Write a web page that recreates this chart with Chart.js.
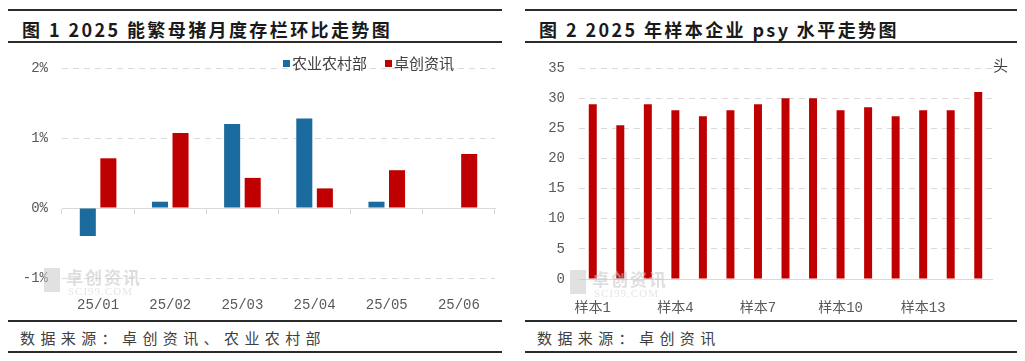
<!DOCTYPE html>
<html>
<head>
<meta charset="utf-8">
<script src="https://cdn.jsdelivr.net/npm/chart.js@4/dist/chart.umd.min.js"></script>
<style>
  html, body { margin: 0; padding: 0; background: #fff; }
  body { width: 1025px; height: 361px; position: relative; overflow: hidden;
         font-family: "Noto Sans CJK SC", sans-serif; }
  .rule { position: absolute; height: 2px; background: #2b2b2b; }
  .title { position: absolute; font-size: 18px; font-weight: 700; color: #1a1a1a;
           letter-spacing: 2.4px; line-height: 20px; white-space: nowrap; }
  .source { position: absolute; font-size: 15px; color: #404040; letter-spacing: 5.4px;
            line-height: 18px; white-space: nowrap; }
  canvas { position: absolute; }
  .legend { position: absolute; top: 54px; font-size: 15px; color: #404040; line-height: 18px;
            white-space: nowrap; }
  .legend span.box { display: inline-block; width: 7px; height: 7px; margin-right: 2px;
                     vertical-align: 2px; }
  .legend span.item { margin-right: 18px; }
  .unit { position: absolute; left: 993px; top: 54px; font-size: 15px; color: #404040; }
  .wm { position: absolute; opacity: 0.55; pointer-events: none; }
  .wm .logo { position: absolute; left: 0; top: 0; width: 16px; height: 24px; background: #c8c8c8; }
  .wm .cn { position: absolute; left: 22px; top: 0; font-size: 17px; font-weight: 700;
            color: #c4c4c4; letter-spacing: 2px; white-space: nowrap; line-height: 18px; }
  .wm .en { position: absolute; left: 24px; top: 17px; font-size: 11px; color: #cfcfcf;
            font-family: "Liberation Serif", serif; letter-spacing: 1px; white-space: nowrap; }
</style>
</head>
<body>
<div class="rule" style="left:8px;top:9px;width:494px"></div>
<div class="title" style="left:22px;top:19px">图 1 2025 能繁母猪月度存栏环比走势图</div>
<div class="rule" style="left:8px;top:41px;width:494px"></div>

<div class="rule" style="left:525px;top:9px;width:492px"></div>
<div class="title" style="left:539px;top:19px">图 2 2025 年样本企业 psy 水平走势图</div>
<div class="rule" style="left:525px;top:41px;width:492px"></div>

<canvas id="left" width="512" height="274" style="left:0;top:44px"></canvas>
<canvas id="right" width="513" height="274" style="left:512px;top:44px"></canvas>

<div class="legend" id="legend" style="left:283px"></div>
<div class="unit">头</div>

<div class="wm" style="left:44px;top:268px"><div class="logo"></div><div class="cn">卓创资讯</div><div class="en">SCI99.COM</div></div>
<div class="wm" style="left:570px;top:270px"><div class="logo"></div><div class="cn">卓创资讯</div><div class="en">SCI99.COM</div></div>

<div class="rule" style="left:8px;top:320px;width:494px"></div>
<div class="source" style="left:20px;top:329px">数据来源：卓创资讯、农业农村部</div>
<div class="rule" style="left:8px;top:351px;width:494px"></div>

<div class="rule" style="left:525px;top:320px;width:492px"></div>
<div class="source" style="left:537px;top:329px">数据来源：卓创资讯</div>
<div class="rule" style="left:525px;top:351px;width:492px"></div>

<script>
// figure 1: month-on-month change of sow inventory (%)
const months = ['25/01', '25/02', '25/03', '25/04', '25/05', '25/06'];
const moaValues = [-0.40, 0.09, 1.20, 1.28, 0.09, null];
const sciValues = [0.71, 1.07, 0.43, 0.28, 0.54, 0.77];
const pctMin = -1;
const pctMax = 2;

// figure 2: psy of sample companies
const samples = ['样本1', '样本2', '样本3', '样本4', '样本5', '样本6', '样本7', '样本8',
  '样本9', '样本10', '样本11', '样本12', '样本13', '样本14', '样本15'];
const psyValues = [29, 25.5, 29, 28, 27, 28, 29, 30, 30, 28, 28.5, 27, 28, 28, 31];
const psyMin = 0;
const psyMax = 35;

const BLUE = '#1c6b9e';
const RED = '#c00000';
const GRID = '#d9d9d9';
const TICK = '#595959';

Chart.defaults.font.family = "'Liberation Mono', 'Noto Sans CJK SC', monospace";
Chart.defaults.font.size = 14;
Chart.defaults.color = TICK;
Chart.defaults.animation = false;

const leftChart = new Chart(document.getElementById('left'), {
  type: 'bar',
  data: {
    labels: months,
    datasets: [
      { label: '农业农村部', data: moaValues, backgroundColor: BLUE,
        categoryPercentage: 0.57, barPercentage: 0.78 },
      { label: '卓创资讯', data: sciValues, backgroundColor: RED,
        categoryPercentage: 0.57, barPercentage: 0.78 },
    ],
  },
  options: {
    responsive: false,
    devicePixelRatio: 1,
    layout: { padding: { left: 0, right: 17, top: 24, bottom: 0 } },
    plugins: { legend: { display: false }, tooltip: { enabled: false } },
    scales: {
      x: {
        position: 'bottom',
        grid: { display: false },
        border: { display: false },
        ticks: { padding: 11, color: TICK },
        afterFit: (scale) => { scale.height = 40; },
      },
      x2: {
        type: 'category',
        labels: months,
        position: { y: 0 },
        offset: true,
        grid: { offset: true, drawOnChartArea: false, drawTicks: true, tickLength: 5,
                tickColor: GRID, color: GRID },
        border: { display: true, color: GRID, width: 1 },
        ticks: { display: false },
      },
      y: {
        min: pctMin,
        max: pctMax,
        ticks: { stepSize: 1, padding: 14, color: TICK, callback: (v) => v + '%' },
        grid: { color: GRID, drawTicks: false },
        border: { display: false, dash: [6, 5] },
        afterFit: (scale) => { scale.width = 62; },
      },
    },
  },
});

// html legend from the datasets
document.getElementById('legend').innerHTML = leftChart.data.datasets
  .map((d) => '<span class="item"><span class="box" style="background:' + d.backgroundColor +
    '"></span>' + d.label + '</span>')
  .join('');

new Chart(document.getElementById('right'), {
  type: 'bar',
  data: {
    labels: samples,
    datasets: [
      { label: 'psy', data: psyValues, backgroundColor: RED,
        categoryPercentage: 1.0, barPercentage: 0.29 },
    ],
  },
  options: {
    responsive: false,
    devicePixelRatio: 1,
    layout: { padding: { left: 0, right: 33, top: 24, bottom: 0 } },
    plugins: { legend: { display: false }, tooltip: { enabled: false } },
    scales: {
      x: {
        grid: { display: false },
        border: { display: true, color: GRID, width: 1 },
        ticks: {
          padding: 13,
          color: TICK,
          autoSkip: false,
          maxRotation: 0,
          callback: function (v, i) { return i % 3 === 0 ? this.getLabelForValue(v) : ''; },
        },
        afterFit: (scale) => { scale.height = 39; },
      },
      y: {
        min: psyMin,
        max: psyMax,
        ticks: { stepSize: 5, padding: 14, color: TICK },
        grid: { color: GRID, drawTicks: false },
        border: { display: false, dash: [6, 5] },
        afterFit: (scale) => { scale.width = 67; },
      },
    },
  },
});
</script>
</body>
</html>
